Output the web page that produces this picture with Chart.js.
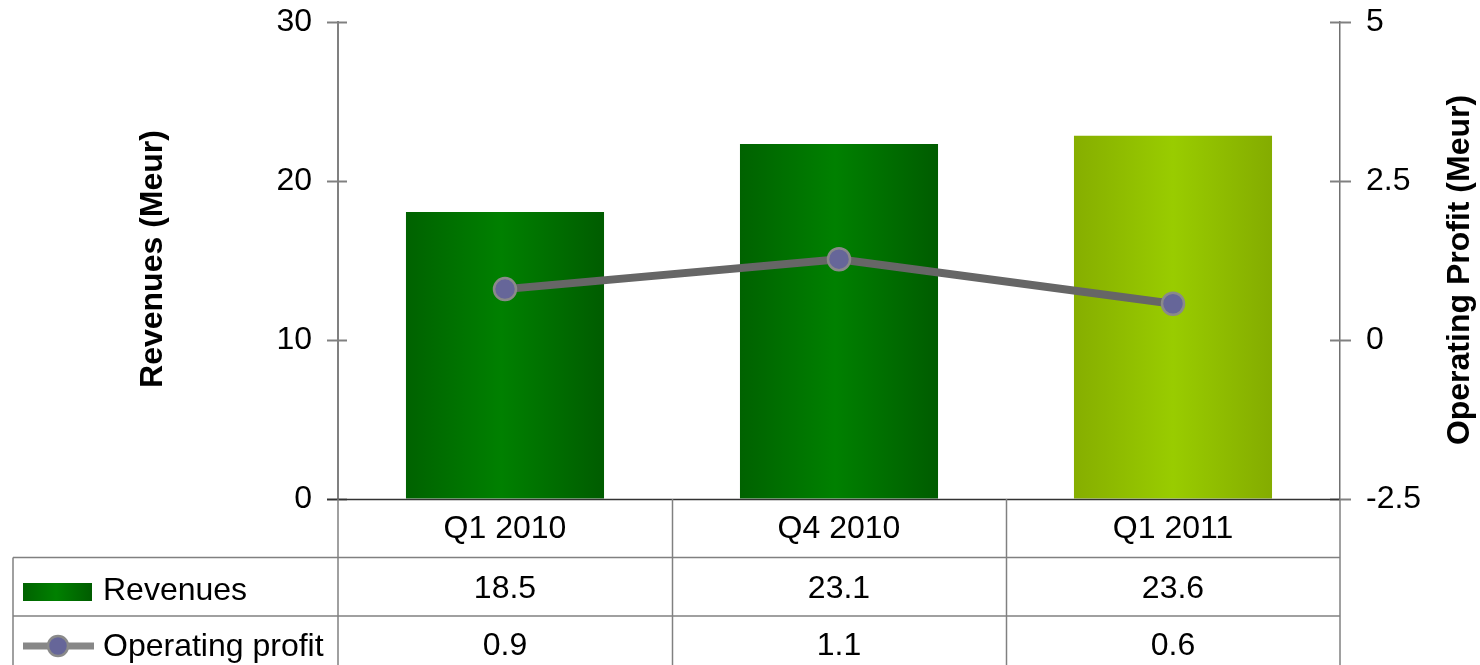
<!DOCTYPE html>
<html>
<head>
<meta charset="utf-8">
<script src="https://cdn.jsdelivr.net/npm/chart.js@4/dist/chart.umd.min.js"></script>
<style>
html,body{margin:0;padding:0;background:#fff;}
#wrap{position:relative;width:1480px;height:665px;}
</style>
</head>
<body>
<div id="wrap"><canvas id="c" width="1480" height="665"></canvas></div>
<script>
const categories = ["Q1 2010", "Q4 2010", "Q1 2011"];
const revenues = [18.05, 22.33, 22.85];          // bar heights
const operatingProfit = [0.80, 1.27, 0.57];      // line points
const revenueTableLabels = ["18.5", "23.1", "23.6"];
const profitTableLabels = ["0.9", "1.1", "0.6"];
const leftTicks = [0, 10, 20, 30];
const rightTicks = [-2.5, 0, 2.5, 5];
const seriesNames = ["Revenues", "Operating profit"];
const leftTitle = "Revenues (Meur)";
const rightTitle = "Operating Profit (Meur)";

const FONT = '"Liberation Sans", Arial, sans-serif';
const FS = 32;
const BAR_PCT = 0.593;

function barGradient(ctx2d, x0, x1, light) {
  const g = ctx2d.createLinearGradient(x0, 0, x1, 0);
  if (light) {
    g.addColorStop(0, '#86ae00');
    g.addColorStop(0.5, '#99cc00');
    g.addColorStop(1, '#84ac00');
  } else {
    g.addColorStop(0, '#006200');
    g.addColorStop(0.48, '#008000');
    g.addColorStop(1, '#005c00');
  }
  return g;
}

const tablePlugin = {
  id: 'tablePlugin',
  afterDraw(chart) {
    const c = chart.ctx;
    const xs = chart.scales.x, yl = chart.scales.y, yr = chart.scales.y1;
    const area = chart.chartArea;
    const L = area.left, R = area.right, B = area.bottom;
    c.save();
    // axis tick marks crossing the axis lines
    c.strokeStyle = '#808080';
    c.lineWidth = 2;
    yl.ticks.forEach(t => {
      const y = Math.round(yl.getPixelForValue(t.value)) + 0.5;
      c.beginPath(); c.moveTo(L - 11, y); c.lineTo(L + 9, y); c.stroke();
    });
    yr.ticks.forEach(t => {
      const y = Math.round(yr.getPixelForValue(t.value)) + 0.5;
      c.beginPath(); c.moveTo(R - 10, y); c.lineTo(R + 11, y); c.stroke();
    });
    // baseline
    c.strokeStyle = '#333333';
    c.lineWidth = 1.5;
    c.beginPath(); c.moveTo(L - 11, B + 0.5); c.lineTo(R, B + 0.5); c.stroke();
    // table lines
    const row1 = 557.5, row2 = 616;
    c.strokeStyle = '#808080';
    c.lineWidth = 1.5;
    c.beginPath(); c.moveTo(13, row1); c.lineTo(R, row1); c.stroke();
    c.beginPath(); c.moveTo(13, row2); c.lineTo(R, row2); c.stroke();
    c.beginPath(); c.moveTo(13, row1); c.lineTo(13, 665); c.stroke();
    c.beginPath(); c.moveTo(L, B); c.lineTo(L, 665); c.stroke();
    c.beginPath(); c.moveTo(R, B); c.lineTo(R, 665); c.stroke();
    for (let i = 0; i < categories.length - 1; i++) {
      const xb = Math.round((xs.getPixelForValue(i) + xs.getPixelForValue(i + 1)) / 2) + 0.5;
      c.beginPath(); c.moveTo(xb, B); c.lineTo(xb, 665); c.stroke();
    }
    // table text
    c.fillStyle = '#000';
    c.font = FS + 'px ' + FONT;
    c.textAlign = 'center';
    c.textBaseline = 'middle';
    categories.forEach((cat, i) => {
      const x = xs.getPixelForValue(i);
      c.fillText(cat, x, 529);
      c.fillText(revenueTableLabels[i], x, 589);
      c.fillText(profitTableLabels[i], x, 646);
    });
    // legend keys
    c.textAlign = 'left';
    c.fillText(seriesNames[0], 103, 591);
    c.fillText(seriesNames[1], 103, 647);
    c.fillStyle = barGradient(c, 23, 92, false);
    c.fillRect(23, 583, 69, 18);
    c.strokeStyle = '#878787';
    c.lineWidth = 7;
    c.beginPath(); c.moveTo(23, 646); c.lineTo(94, 646); c.stroke();
    c.beginPath(); c.arc(58, 646, 10, 0, Math.PI * 2);
    c.fillStyle = '#666699'; c.fill();
    c.lineWidth = 2.5; c.strokeStyle = '#8a8a8a'; c.stroke();
    // axis titles
    c.font = 'bold ' + FS + 'px ' + FONT;
    c.fillStyle = '#000';
    c.textAlign = 'center';
    c.save();
    c.translate(153, 259); c.rotate(-Math.PI / 2); c.fillText(leftTitle, 0, 0);
    c.restore();
    c.save();
    c.translate(1460, 270); c.rotate(-Math.PI / 2); c.fillText(rightTitle, 0, 0);
    c.restore();
    c.restore();
  }
};

new Chart(document.getElementById('c'), {
  data: {
    labels: categories,
    datasets: [
      {
        type: 'line',
        label: seriesNames[1],
        data: operatingProfit,
        yAxisID: 'y1',
        order: 0,
        borderColor: '#666666',
        borderWidth: 8,
        tension: 0,
        pointRadius: 11,
        pointHoverRadius: 11,
        pointBackgroundColor: '#666699',
        pointBorderColor: '#8a8a8a',
        pointBorderWidth: 2.5
      },
      {
        type: 'bar',
        label: seriesNames[0],
        data: revenues,
        yAxisID: 'y',
        order: 1,
        barPercentage: BAR_PCT,
        categoryPercentage: 1,
        borderWidth: 0,
        backgroundColor: (ctx) => {
          const chart = ctx.chart;
          const xs = chart.scales && chart.scales.x;
          if (!chart.chartArea || !xs || ctx.dataIndex === undefined) return '#007a00';
          const cx = xs.getPixelForValue(ctx.dataIndex);
          const hw = (xs.width / categories.length) * BAR_PCT / 2;
          return barGradient(chart.ctx, cx - hw, cx + hw, ctx.dataIndex === categories.length - 1);
        }
      }
    ]
  },
  options: {
    responsive: false,
    animation: false,
    events: [],
    layout: { padding: { top: 22, bottom: 166, left: 0, right: 0 } },
    plugins: { legend: { display: false }, tooltip: { enabled: false } },
    scales: {
      x: { type: 'category', display: false, offset: true },
      y: {
        position: 'left',
        min: 0, max: 30,
        afterBuildTicks: (s) => { s.ticks = leftTicks.map(v => ({ value: v })); },
        afterFit: (s) => { s.width = 338; s.paddingTop = 0; s.paddingBottom = 0; },
        grid: { drawOnChartArea: false, drawTicks: false, color: 'rgba(0,0,0,0)' },
        border: { display: true, color: '#808080', width: 2 },
        ticks: { padding: 26, color: '#000', font: { family: FONT, size: FS } }
      },
      y1: {
        position: 'right',
        min: -2.5, max: 5,
        afterBuildTicks: (s) => { s.ticks = rightTicks.map(v => ({ value: v })); },
        afterFit: (s) => { s.width = 140; s.paddingTop = 0; s.paddingBottom = 0; },
        grid: { drawOnChartArea: false, drawTicks: false, color: 'rgba(0,0,0,0)' },
        border: { display: true, color: '#707070', width: 1.5 },
        ticks: { padding: 26, color: '#000', font: { family: FONT, size: FS } }
      }
    }
  },
  plugins: [tablePlugin]
});
</script>
</body>
</html>
